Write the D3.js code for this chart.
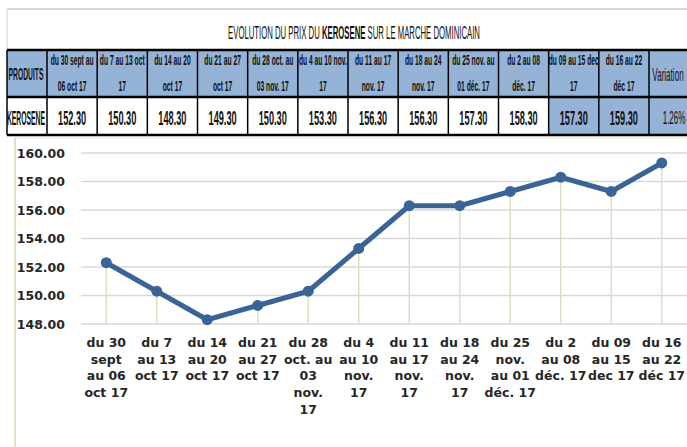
<!DOCTYPE html>
<html>
<head>
<meta charset="utf-8">
<style>
  body { margin: 0; background: #fff; }
  svg { display: block; }
</style>
</head>
<body>
<svg id="chart" width="687" height="447"></svg>
<script src="https://cdn.jsdelivr.net/npm/d3@7"></script>
<script>
// data
var periods = ["du 30 sept au 06 oct 17", "du 7 au 13 oct 17", "du 14 au 20 oct 17",
  "du 21 au 27 oct 17", "du 28 oct. au 03 nov. 17", "du 4 au 10 nov. 17",
  "du 11 au 17 nov. 17", "du 18 au 24 nov. 17", "du 25 nov. au 01 déc. 17",
  "du 2 au 08 déc. 17", "du 09 au 15 dec 17", "du 16 au 22 déc 17"];
var prices = [152.30, 150.30, 148.30, 149.30, 150.30, 153.30, 156.30, 156.30, 157.30, 158.30, 157.30, 159.30];
var variation = "1.26%";
var product = "KEROSENE";

// header lines in the table (as wrapped in the sheet)
var headerLines = [
  ["du 30 sept au", "06 oct 17"], ["du 7 au 13 oct", "17"], ["du 14 au 20", "oct 17"],
  ["du 21 au 27", "oct 17"], ["du 28 oct. au", "03 nov. 17"], ["du 4 au 10 nov.", "17"],
  ["du 11 au 17", "nov. 17"], ["du 18 au 24", "nov. 17"], ["du 25 nov. au", "01 déc. 17"],
  ["du 2 au 08", "déc. 17"], ["du 09 au 15 dec", "17"], ["du 16 au 22", "déc 17"]];
// axis tick labels (as wrapped under the chart)
var tickLines = [
  ["du 30", "sept", "au 06", "oct 17"], ["du 7", "au 13", "oct 17"], ["du 14", "au 20", "oct 17"],
  ["du 21", "au 27", "oct 17"], ["du 28", "oct. au", "03", "nov.", "17"], ["du 4", "au 10", "nov.", "17"],
  ["du 11", "au 17", "nov.", "17"], ["du 18", "au 24", "nov.", "17"], ["du 25", "nov.", "au 01", "déc. 17"],
  ["du 2", "au 08", "déc. 17"], ["du 09", "au 15", "dec 17"], ["du 16", "au 22", "déc 17"]];
var highlighted = [10, 11];
var yTicks = [148, 150, 152, 154, 156, 158, 160];

var svg = d3.select("#chart");
var blue = "#95b3d7";
var narrow = "'Liberation Sans', Arial, sans-serif";

// condensed text: drawn at the origin and squeezed horizontally
function cText(g, str, cx, cy, size, weight, factor) {
  return g.append("text")
      .attr("transform", "translate(" + cx + "," + cy + ") scale(" + factor + ",1)")
      .attr("text-anchor", "middle")
      .attr("font-family", narrow)
      .attr("font-size", size)
      .attr("font-weight", weight)
      .attr("fill", "#111")
      .text(str);
}

// ---------- title ----------
svg.append("line").attr("x1", 7).attr("x2", 687).attr("y1", 9).attr("y2", 9)
    .attr("stroke", "#d4d4d4").attr("stroke-width", 2);
svg.append("line").attr("x1", 7).attr("x2", 7).attr("y1", 9).attr("y2", 49)
    .attr("stroke", "#d4d4d4").attr("stroke-width", 1);

var title = svg.append("text")
    .attr("text-anchor", "middle")
    .attr("font-family", narrow)
    .attr("font-size", 19)
    .attr("fill", "#111");
title.append("tspan").text("EVOLUTION DU PRIX DU ");
title.append("tspan").attr("font-weight", "bold").text(product);
title.append("tspan").text(" SUR LE MARCHE DOMINICAIN");
var tw = title.node().getComputedTextLength();
title.attr("transform", "translate(354,39) scale(" + (252 / tw) + ",1)");

// ---------- table ----------
var col = d3.scaleBand().domain(d3.range(periods.length)).range([47, 649]);
var table = svg.append("g");
var rowTop = 50, rowMid = 97, rowBot = 135;

// header fills
table.append("rect").attr("x", 7).attr("y", rowTop).attr("width", 700).attr("height", rowMid - rowTop).attr("fill", blue);
table.selectAll(".hl").data(highlighted).enter().append("rect")
    .attr("x", function(i) { return col(i); }).attr("y", rowMid)
    .attr("width", col.bandwidth()).attr("height", rowBot - rowMid).attr("fill", blue);
table.append("rect").attr("x", 649).attr("y", rowMid).attr("width", 60).attr("height", rowBot - rowMid).attr("fill", blue);

// header texts
cText(table, "PRODUITS", 26, 80, 16.5, "bold", 0.41);
headerLines.forEach(function(lines, i) {
  var cx = col(i) + col.bandwidth() / 2;
  cText(table, lines[0], cx, 65, 14, "bold", 0.48);
  cText(table, lines[1], cx, 91, 14, "bold", 0.48);
});
cText(table, "Variation", 668, 81, 18, "normal", 0.45);

// value row
cText(table, product, 26, 125, 20, "bold", 0.34);
prices.forEach(function(v, i) {
  cText(table, d3.format(".2f")(v), col(i) + col.bandwidth() / 2, 125, 20, "bold", 0.46);
});
cText(table, variation, 674, 124, 19, "normal", 0.42);

// grid lines of the table
[rowTop, rowMid, rowBot].forEach(function(y) {
  table.append("line").attr("x1", 7).attr("x2", 687).attr("y1", y).attr("y2", y)
      .attr("stroke", "#000").attr("stroke-width", 2.5);
});
var vx = [7].concat(d3.range(periods.length).map(function(i) { return col(i); })).concat([649]);
vx.forEach(function(x) {
  table.append("line").attr("x1", x).attr("x2", x).attr("y1", rowTop).attr("y2", rowBot)
      .attr("stroke", "#000").attr("stroke-width", 1.5);
});

// ---------- chart ----------
var chart = svg.append("g");
chart.append("line").attr("x1", 15).attr("x2", 15).attr("y1", 138).attr("y2", 447)
    .attr("stroke", "#d7e4bd").attr("stroke-width", 2);
chart.append("line").attr("x1", 15).attr("x2", 687).attr("y1", 138).attr("y2", 138)
    .attr("stroke", "#e4e9dc").attr("stroke-width", 1);

var x = d3.scaleBand().domain(d3.range(prices.length)).range([81, 687]);
var y = d3.scaleLinear().domain([148, 160]).range([324, 153]);
var cx = function(i) { return x(i) + x.bandwidth() / 2; };

chart.selectAll(".grid").data(yTicks).enter().append("line")
    .attr("x1", 81).attr("x2", 687)
    .attr("y1", function(d) { return y(d); }).attr("y2", function(d) { return y(d); })
    .attr("stroke", "#d9d9d9").attr("stroke-width", 1.5);

chart.selectAll(".ylab").data(yTicks).enter().append("text")
    .attr("x", 65).attr("y", function(d) { return y(d); }).attr("dy", "0.36em")
    .attr("text-anchor", "end")
    .attr("font-family", "'DejaVu Sans', Verdana, sans-serif")
    .attr("font-weight", "bold").attr("font-size", 12.5).attr("fill", "#262626")
    .text(function(d) { return d3.format(".2f")(d); });

// drop lines
chart.selectAll(".drop").data(prices).enter().append("line")
    .attr("x1", function(d, i) { return cx(i); }).attr("x2", function(d, i) { return cx(i); })
    .attr("y1", function(d) { return y(d); }).attr("y2", y(148))
    .attr("stroke", "#d7e4bd").attr("stroke-width", 1.5);

var line = d3.line().x(function(d, i) { return cx(i); }).y(function(d) { return y(d); });
chart.append("path").datum(prices).attr("d", line)
    .attr("fill", "none").attr("stroke", "#3b6496").attr("stroke-width", 5)
    .attr("stroke-linejoin", "round");
chart.selectAll(".dot").data(prices).enter().append("circle")
    .attr("cx", function(d, i) { return cx(i); }).attr("cy", function(d) { return y(d); })
    .attr("r", 5.5).attr("fill", "#3b6496");

// category labels
tickLines.forEach(function(lines, i) {
  var t = chart.append("text")
      .attr("text-anchor", "middle")
      .attr("font-family", "'DejaVu Sans', Verdana, sans-serif")
      .attr("font-weight", "bold").attr("font-size", 12.5).attr("fill", "#262626");
  lines.forEach(function(s, k) {
    t.append("tspan").attr("x", cx(i)).attr("y", 347 + k * 16.7).text(s);
  });
});
</script>
</body>
</html>
